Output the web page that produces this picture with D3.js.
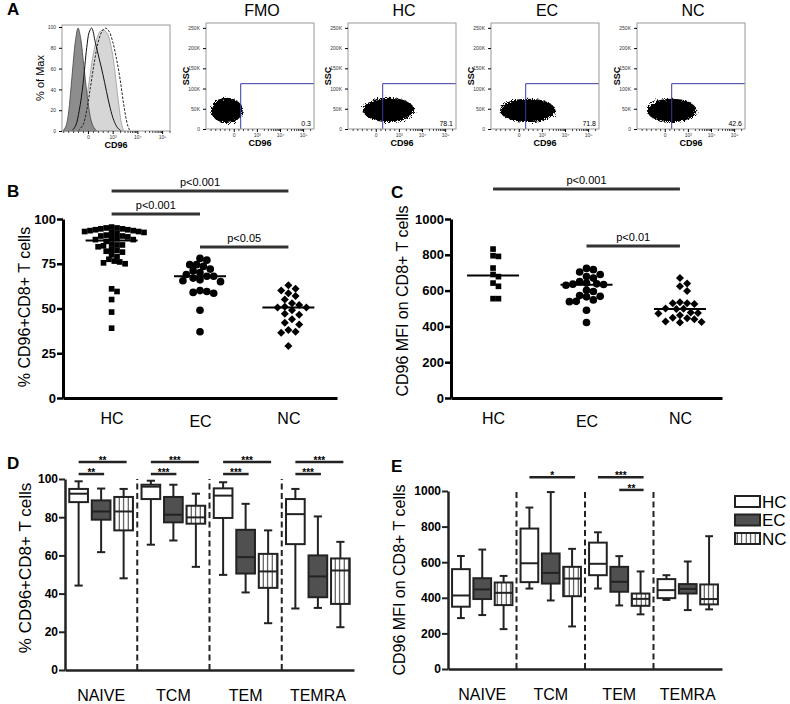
<!DOCTYPE html>
<html>
<head>
<meta charset="utf-8">
<script src="https://cdn.jsdelivr.net/npm/d3@7"></script>
<style>
  body { margin: 0; background: #fff; }
  svg, svg text { font-family: 'Liberation Sans', Arial, sans-serif; }
</style>
</head>
<body>
<svg id="fig" width="790" height="704"></svg>
<script>
'use strict';

// panel A: histogram, x in display decades (2 = "0", 3 = 10^3 ...), y in % of max
const histDark = [[0.98, 0], [1.1, 4], [1.2, 15], [1.3, 38], [1.4, 65], [1.5, 88], [1.6, 99], [1.7, 90],
  [1.8, 70], [1.9, 48], [2.0, 28], [2.1, 13], [2.2, 5], [2.35, 0]];
const histSolid = [[1.35, 0], [1.5, 5], [1.65, 20], [1.8, 45], [1.95, 80], [2.05, 95], [2.15, 99], [2.3, 85],
  [2.45, 70], [2.6, 55], [2.75, 38], [2.9, 22], [3.05, 10], [3.2, 3], [3.35, 0]];
const histLight = [[1.55, 0], [1.75, 8], [1.9, 25], [2.05, 48], [2.2, 72], [2.35, 88], [2.5, 96], [2.65, 97],
  [2.8, 93], [2.95, 80], [3.05, 65], [3.15, 45], [3.25, 25], [3.35, 8], [3.45, 0]];
const histDashed = [[1.6, 0], [1.8, 6], [1.95, 20], [2.1, 42], [2.25, 65], [2.4, 84], [2.55, 95], [2.7, 99],
  [2.85, 96], [3.0, 86], [3.15, 70], [3.3, 50], [3.45, 25], [3.6, 6], [3.7, 0]];
const decadeTicks = [2, 3, 4, 5];
const decadeLabels = ['0', '10³', '10⁴', '10⁵'];
const histYTicks = [0, 20, 40, 60, 80, 100];

// panel A: gating plots (CD96 in display decades, SSC in K)
const gateTitles = ['FMO', 'HC', 'EC', 'NC'];
const gatePercents = ['0.3', '78.1', '71.8', '42.6'];
const blobCenterX = [1.70, 2.56, 2.39, 2.30];
const blobCenterY = [46, 47, 46, 46];
const blobSpreadX = [0.69, 1.11, 1.20, 1.07];
const blobSpreadY = [31, 30, 29, 29];
const gateX = 2.3;
const gateY = 112;
const sscTicks = [0, 50, 100, 150, 200, 250];

// panels B and C
const groups = ['HC', 'EC', 'NC'];
const pctHC = [95.5, 95, 95, 94.5, 94.5, 94, 94, 93.5, 93.5, 93, 93, 92.5, 92.5, 92, 91, 90.5, 90.5, 90, 89.5, 89,
  88.5, 88.5, 87.5, 86, 85.5, 85.5, 85, 84.5, 83, 82.5, 82, 81.5, 80, 79, 77.5, 76.5, 76, 75.5, 75, 61, 59.5, 55, 48, 39];
const pctEC = [78, 77, 74.5, 74.5, 73.5, 72, 71, 70, 69, 68, 68, 67, 66, 65.5, 65, 60, 59.5, 59, 58.5, 49, 37];
const pctNC = [63, 61, 60, 58.5, 57, 55, 53, 52, 51, 50.5, 50.5, 49, 47, 46.5, 44, 42, 41, 38, 37, 36.5, 29];
const mfiHC = [832, 795, 791, 726, 690, 678, 642, 624, 555, 555];
const mfiEC = [724, 717, 704, 690, 679, 670, 650, 642, 638, 636, 634, 630, 602, 595, 572, 568, 565, 548, 540, 538, 490, 422];
const mfiNC = [670, 640, 625, 598, 535, 530, 530, 525, 500, 498, 497, 478, 475, 472, 462, 448, 445, 440, 428, 425, 422];
const pctSig = [['HC', 'NC', 'p<0.001', 115.6], ['HC', 'EC', 'p<0.001', 102.8], ['EC', 'NC', 'p<0.05', 84.4]];
const mfiSig = [['HC', 'NC', 'p<0.001', 1168], ['EC', 'NC', 'p<0.01', 849]];

// panels D and E: [min, q1, median, q3, max] per subset
const subsets = ['NAIVE', 'TCM', 'TEM', 'TEMRA'];
const pctBoxHC = [[44.2, 87.9, 92.3, 94.8, 98.8], [65.6, 89.5, 96, 97, 99.1], [49.8, 79.6, 91.3, 95.1, 98.3], [32.2, 65.9, 81.6, 89.5, 94.8]];
const pctBoxEC = [[61.7, 78.7, 83, 88.8, 95], [67.8, 77.3, 81.3, 90.6, 97], [40.6, 50.5, 59.1, 73.4, 87], [32.5, 38.1, 49, 60, 80.4]];
const pctBoxNC = [[48, 73.1, 83, 90.6, 94.8], [54, 76.6, 79.9, 86, 92.3], [24.5, 43, 51.6, 60.8, 73.1], [22.4, 34.6, 52.1, 58.4, 67.1]];
const mfiBoxHC = [[286, 350, 413, 561, 635], [452, 488, 594, 789, 907], [452, 527, 591, 710, 768], [388, 398, 443, 505, 527]];
const mfiBoxEC = [[303, 393, 447, 510, 671], [385, 480, 540, 649, 994], [357, 434, 490, 574, 634], [331, 424, 450, 477, 604]];
const mfiBoxNC = [[224, 359, 428, 486, 523], [239, 409, 508, 574, 675], [307, 355, 394, 424, 548], [335, 363, 393, 475, 746]];
const pctBoxSig = [['NAIVE', 'NC', '**', 108.9], ['NAIVE', 'EC', '**', 102.6], ['TCM', 'NC', '***', 108.9], ['TCM', 'EC', '***', 102.6],
  ['TEM', 'NC', '***', 108.9], ['TEM', 'EC', '***', 102.6], ['TEMRA', 'NC', '***', 108.9], ['TEMRA', 'EC', '***', 102.6]];
const mfiBoxSig = [['TCM', 'HC', 'NC', '*', 1077], ['TEM', 'HC', 'NC', '***', 1077], ['TEM', 'EC', 'NC', '**', 1006]];

const svg = d3.select('#fig');
const defs = svg.append('defs');

const hatch = defs.append('pattern')
  .attr('id', 'vhatch')
  .attr('patternUnits', 'userSpaceOnUse')
  .attr('width', 4.5)
  .attr('height', 10);
hatch.append('rect').attr('width', 4.5).attr('height', 10).attr('fill', '#fff');
hatch.append('line')
  .attr('x1', 2.2).attr('x2', 2.2).attr('y1', 0).attr('y2', 10)
  .attr('stroke', '#333').attr('stroke-width', 1);

const rough = defs.append('filter').attr('id', 'rough').attr('x', '-20%').attr('y', '-30%').attr('width', '140%').attr('height', '160%');
rough.append('feTurbulence').attr('type', 'fractalNoise').attr('baseFrequency', 1.1).attr('numOctaves', 2).attr('result', 'n');
rough.append('feDisplacementMap').attr('in', 'SourceGraphic').attr('in2', 'n').attr('scale', 7);

// d3 axes set their own font-family attribute, drop it so the page font is used
const plainFont = a => a.attr('font-family', null);

const panelLetter = (x, y, t) => svg.append('text')
  .attr('x', x).attr('y', y)
  .style('font-size', '17px').style('font-weight', 'bold')
  .text(t);

function drawHistogram() {
  const g = svg.append('g');
  const x = d3.scaleLinear().domain([0.95, 5.32]).range([62, 170]);
  const y = d3.scaleLinear().domain([0, 100]).range([131, 27]);

  const area = d3.area().x(d => x(d[0])).y0(y(0)).y1(d => y(d[1])).curve(d3.curveCatmullRom);
  const line = d3.line().x(d => x(d[0])).y(d => y(d[1])).curve(d3.curveCatmullRom);

  g.append('path').attr('d', area(histLight)).attr('fill', '#d6d6d6').attr('stroke', '#9a9a9a').attr('stroke-width', 0.8);
  g.append('path').attr('d', area(histDark)).attr('fill', '#8d8d8d').attr('stroke', '#444').attr('stroke-width', 0.8);
  g.append('path').attr('d', line(histSolid)).attr('fill', 'none').attr('stroke', '#111').attr('stroke-width', 1);
  g.append('path').attr('d', line(histDashed)).attr('fill', 'none').attr('stroke', '#222')
    .attr('stroke-width', 1).attr('stroke-dasharray', '2.5,1.5');

  g.append('rect').attr('x', 62).attr('y', 25).attr('width', 108).attr('height', 106)
    .attr('fill', 'none').attr('stroke', '#999');

  g.append('g').attr('transform', 'translate(62,0)')
    .call(d3.axisLeft(y).tickValues(histYTicks).tickSize(3).tickSizeOuter(0))
    .call(plainFont)
    .call(a => a.select('.domain').remove())
    .call(a => a.selectAll('text').style('font-size', '5px').attr('fill', '#333'));

  drawDecadeAxis(g, x, 131);

  g.append('text')
    .attr('transform', 'translate(44,78) rotate(-90)')
    .style('text-anchor', 'middle').style('font-size', '11px')
    .text('% of Max');
}

function drawDecadeAxis(g, x, y0) {
  const minor = [];
  for (let d = 3; d < 5.4; d++) {
    for (let k = 2; k < 10; k++) {
      const v = d + Math.log10(k);
      if (v <= x.domain()[1]) minor.push(v);
    }
  }
  [1.0, 1.2, 1.4, 1.6, 1.8, 2.2, 2.4, 2.6, 2.8].forEach(v => minor.push(v));
  g.append('g').attr('transform', `translate(0,${y0})`)
    .call(d3.axisBottom(x).tickValues(minor).tickSize(2).tickFormat(''))
    .call(a => a.select('.domain').remove())
    .call(a => a.selectAll('line').attr('stroke', '#444'));
  g.append('g').attr('transform', `translate(0,${y0})`)
    .call(d3.axisBottom(x).tickValues(decadeTicks).tickSize(3).tickPadding(1)
      .tickFormat((d, i) => decadeLabels[i]))
    .call(plainFont)
    .call(a => a.select('.domain').remove())
    .call(a => a.selectAll('text').style('font-size', '5px').attr('fill', '#333'));
  g.append('text')
    .attr('x', (x.range()[0] + x.range()[1]) / 2)
    .attr('y', y0 + 17)
    .style('text-anchor', 'middle').style('font-size', '9px').style('font-weight', 'bold')
    .text('CD96');
}

function drawGates() {
  const lefts = [206, 348, 491, 637];
  gateTitles.forEach((title, i) => {
    const g = svg.append('g');
    const x = d3.scaleLinear().domain([0.8, 5.47]).range([lefts[i], lefts[i] + 108]);
    const y = d3.scaleLinear().domain([0, 262]).range([129, 23]);

    g.append('ellipse')
      .attr('cx', x(blobCenterX[i]))
      .attr('cy', y(blobCenterY[i]))
      .attr('rx', x(blobCenterX[i] + blobSpreadX[i]) - x(blobCenterX[i]))
      .attr('ry', y(blobCenterY[i]) - y(blobCenterY[i] + blobSpreadY[i]))
      .attr('fill', '#000')
      .attr('filter', 'url(#rough)');

    g.append('path')
      .attr('d', `M${x(gateX)},${y(0)}V${y(gateY)}H${x.range()[1]}`)
      .attr('fill', 'none').attr('stroke', '#3a3aa8').attr('stroke-width', 1);

    g.append('rect').attr('x', lefts[i]).attr('y', 23).attr('width', 108).attr('height', 106)
      .attr('fill', 'none').attr('stroke', '#999');

    g.append('g').attr('transform', `translate(${lefts[i]},0)`)
      .call(d3.axisLeft(y).tickValues(sscTicks).tickSize(3).tickSizeOuter(0)
        .tickFormat(d => d === 0 ? '0' : d + 'K'))
      .call(plainFont)
      .call(a => a.select('.domain').remove())
      .call(a => a.selectAll('text').style('font-size', '5px').attr('fill', '#333'));

    drawDecadeAxis(g, x, 129);

    g.append('text')
      .attr('transform', `translate(${lefts[i] - 17},76) rotate(-90)`)
      .style('text-anchor', 'middle').style('font-size', '9px').style('font-weight', 'bold')
      .text('SSC');

    g.append('text')
      .attr('x', lefts[i] + 105).attr('y', 126)
      .style('text-anchor', 'end').style('font-size', '7px')
      .text(gatePercents[i]);

    g.append('text')
      .attr('x', lefts[i] + 56).attr('y', 16)
      .style('text-anchor', 'middle').style('font-size', '16px')
      .text(title);
  });
}

// dodge points sideways; symbols may overlap a little, as in the original
function swarm(values, y, size) {
  const placed = [];
  return values.map(v => {
    const py = y(v);
    let off = 0;
    for (let k = 0; k < 60; k++) {
      const cand = (k % 2 ? 1 : -1) * Math.ceil(k / 2) * size * 0.45;
      if (placed.every(p => Math.hypot(p[0] - cand, p[1] - py) >= size * 0.84)) {
        off = cand;
        break;
      }
    }
    placed.push([off, py]);
    return {v, off, py};
  });
}

function drawScatter(o) {
  const g = svg.append('g');
  const x = d3.scalePoint().domain(groups).range([o.left, o.right]).padding(o.padding);
  const y = d3.scaleLinear().domain(o.domain).range([398, 219]);

  g.append('g').attr('transform', 'translate(0,398)')
    .call(d3.axisBottom(x).tickSize(0).tickPadding(14.5))
    .call(plainFont)
    .call(a => a.select('.domain').attr('stroke-width', 3))
    .call(a => a.selectAll('text').style('font-size', '16px').attr('dy', (d, i) => i === 1 ? '0.91em' : '0.71em'));

  g.append('g').attr('transform', `translate(${o.left},0)`)
    .call(d3.axisLeft(y).tickValues(o.ticks).tickSize(6).tickSizeOuter(0).tickPadding(1).tickFormat(d3.format('d')))
    .call(plainFont)
    .call(a => a.select('.domain').attr('stroke-width', 3))
    .call(a => a.selectAll('line').attr('stroke-width', 2.5))
    .call(a => a.selectAll('text').style('font-size', '13px').style('font-weight', 'bold'));

  const shapes = [
    d3.symbol().type(d3.symbolSquare).size(32),
    d3.symbol().type(d3.symbolCircle).size(46),
    d3.symbol().type(d3.symbolSquare).size(32)
  ];
  const sizes = [6, 7.6, 8];
  o.series.forEach((vals, i) => {
    const sorted = vals.slice().sort((a, b) => b - a);
    const pts = swarm(sorted, y, sizes[i]);
    g.selectAll(null)
      .data(pts)
      .enter()
      .append('path')
      .attr('d', shapes[i])
      .attr('transform', d => `translate(${x(groups[i]) + d.off},${d.py})` + (i === 2 ? ' rotate(45)' : ''))
      .attr('fill', '#000');

    const med = d3.median(vals);
    g.append('line')
      .attr('x1', x(groups[i]) - 26).attr('x2', x(groups[i]) + 26)
      .attr('y1', y(med)).attr('y2', y(med))
      .attr('stroke', '#000').attr('stroke-width', 2);
  });

  o.sig.forEach(s => {
    const yy = y(s[3]);
    g.append('line')
      .attr('x1', x(s[0])).attr('x2', x(s[1]))
      .attr('y1', yy).attr('y2', yy)
      .attr('stroke', '#333').attr('stroke-width', 3);
    g.append('text')
      .attr('x', (x(s[0]) + x(s[1])) / 2).attr('y', yy - 5)
      .style('text-anchor', 'middle').style('font-size', '11px')
      .text(s[2]);
  });

  g.append('text')
    .attr('transform', `translate(${o.labelX},${o.labelY}) rotate(-90)`)
    .style('text-anchor', 'middle').style('font-size', '16px')
    .text(o.label);
}

function drawBoxes(o) {
  const g = svg.append('g');
  const x = d3.scaleBand().domain(subsets).range([o.left, o.right]);
  const inner = d3.scaleBand().domain(groups).range([0, x.bandwidth()]).paddingInner(0.17).paddingOuter(0.19);
  const y = d3.scaleLinear().domain(o.domain).range([o.bottom, o.top]);
  const bw = inner.bandwidth();
  const fills = ['#fff', '#505050', 'url(#vhatch)'];

  subsets.slice(1).forEach(s => {
    g.append('line')
      .attr('x1', x(s)).attr('x2', x(s))
      .attr('y1', o.bottom).attr('y2', o.top)
      .attr('stroke', '#222').attr('stroke-width', 2).attr('stroke-dasharray', '6,3.5');
  });

  g.append('g').attr('transform', `translate(0,${o.bottom})`)
    .call(d3.axisBottom(x).tickSize(0).tickPadding(19.5))
    .call(plainFont)
    .call(a => a.select('.domain').attr('stroke-width', 2.5).attr('stroke', '#222'))
    .call(a => a.selectAll('text').style('font-size', '16px'));

  g.append('g').attr('transform', `translate(${o.left},0)`)
    .call(d3.axisLeft(y).tickValues(o.ticks).tickSize(6).tickSizeOuter(0).tickPadding(1).tickFormat(d3.format('d')))
    .call(plainFont)
    .call(a => a.select('.domain').attr('stroke-width', 2.5).attr('stroke', '#222'))
    .call(a => a.selectAll('line').attr('stroke-width', 2).attr('stroke', '#222'))
    .call(a => a.selectAll('text').style('font-size', '12px').style('font-weight', 'bold'));

  o.series.forEach((rows, gi) => {
    rows.forEach((b, si) => {
      const cx = x(subsets[si]) + inner(groups[gi]) + bw / 2;
      const box = g.append('g').attr('stroke', '#222').attr('stroke-width', 2).attr('fill', 'none');
      box.append('line').attr('x1', cx).attr('x2', cx).attr('y1', y(b[0])).attr('y2', y(b[1]));
      box.append('line').attr('x1', cx).attr('x2', cx).attr('y1', y(b[3])).attr('y2', y(b[4]));
      box.append('line').attr('x1', cx - bw * 0.22).attr('x2', cx + bw * 0.22).attr('y1', y(b[0])).attr('y2', y(b[0]));
      box.append('line').attr('x1', cx - bw * 0.22).attr('x2', cx + bw * 0.22).attr('y1', y(b[4])).attr('y2', y(b[4]));
      box.append('rect')
        .attr('x', cx - bw / 2).attr('y', y(b[3]))
        .attr('width', bw).attr('height', y(b[1]) - y(b[3]))
        .attr('fill', fills[gi]);
      box.append('line').attr('x1', cx - bw / 2).attr('x2', cx + bw / 2).attr('y1', y(b[2])).attr('y2', y(b[2]));
    });
  });

  o.sig.forEach(s => {
    const from = s.length === 5 ? s[1] : 'HC';
    const to = s.length === 5 ? s[2] : s[1];
    const label = s[s.length - 2];
    const yy = y(s[s.length - 1]);
    const x1 = x(s[0]) + inner(from) + bw / 2;
    const x2 = x(s[0]) + inner(to) + bw / 2 + 3;
    g.append('line')
      .attr('x1', x1).attr('x2', x2).attr('y1', yy).attr('y2', yy)
      .attr('stroke', '#222').attr('stroke-width', 2.5);
    g.append('text')
      .attr('x', (x1 + x2) / 2).attr('y', yy + 2)
      .style('text-anchor', 'middle').style('font-size', '10px').style('font-weight', 'bold')
      .text(label);
  });

  g.append('text')
    .attr('transform', `translate(${o.labelX},${o.labelY}) rotate(-90)`)
    .style('text-anchor', 'middle').style('font-size', o.labelSize)
    .text(o.label);
}

function drawLegend() {
  const fills = ['#fff', '#505050', 'url(#vhatch)'];
  const g = svg.append('g').attr('transform', 'translate(735,496)');
  groups.forEach((name, i) => {
    g.append('rect')
      .attr('x', 0).attr('y', i * 18.5)
      .attr('width', 25).attr('height', 11)
      .attr('fill', fills[i]).attr('stroke', '#222').attr('stroke-width', 2);
    g.append('text')
      .attr('x', 27).attr('y', i * 18.5 + 11.5)
      .style('font-size', '17px')
      .text(name);
  });
}

panelLetter(7, 15, 'A');
drawHistogram();
drawGates();

panelLetter(7, 197, 'B');
drawScatter({
  left: 63, right: 337, padding: 0.55, domain: [0, 100], ticks: [0, 25, 50, 75, 100],
  series: [pctHC, pctEC, pctNC], sig: pctSig,
  label: '% CD96+CD8+ T cells', labelX: 30, labelY: 307
});

panelLetter(391, 198, 'C');
drawScatter({
  left: 451, right: 722, padding: 0.45, domain: [0, 1000], ticks: [0, 200, 400, 600, 800, 1000],
  series: [mfiHC, mfiEC, mfiNC], sig: mfiSig,
  label: 'CD96 MFI on CD8+ T cells', labelX: 408, labelY: 301
});

panelLetter(7, 469, 'D');
drawBoxes({
  left: 65, right: 354, top: 479, bottom: 670, domain: [0, 100], ticks: [0, 20, 40, 60, 80, 100],
  series: [pctBoxHC, pctBoxEC, pctBoxNC], sig: pctBoxSig,
  label: '% CD96+CD8+ T cells', labelX: 31, labelY: 568, labelSize: '17px'
});

panelLetter(391, 472, 'E');
drawBoxes({
  left: 448, right: 722, top: 491, bottom: 669, domain: [0, 1000], ticks: [0, 200, 400, 600, 800, 1000],
  series: [mfiBoxHC, mfiBoxEC, mfiBoxNC], sig: mfiBoxSig,
  label: 'CD96 MFI on CD8+ T cells', labelX: 405, labelY: 580, labelSize: '16px'
});
drawLegend();
</script>
</body>
</html>
